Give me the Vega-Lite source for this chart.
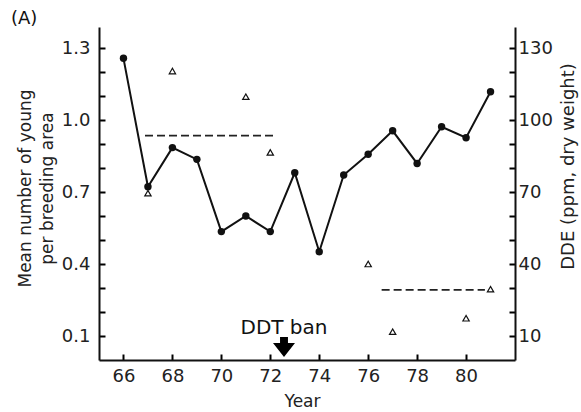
{
  "$schema": "https://vega.github.io/schema/vega-lite/v6.json",
  "width": 416,
  "height": 333,
  "autosize": {"type": "none"},
  "padding": {"left": 99, "top": 27, "right": 66, "bottom": 52},
  "title": {"text": "(A)", "anchor": "start", "frame": "group", "dx": -88, "offset": -1, "fontSize": 18, "fontWeight": "normal", "font": "DejaVu Sans", "color": "#111"},
  "config": {"view": {"stroke": null}},
  "datasets": {
    "young": [
      {"year": 66, "young": 1.257},
      {"year": 67, "young": 0.722},
      {"year": 68, "young": 0.885},
      {"year": 69, "young": 0.836},
      {"year": 70, "young": 0.535},
      {"year": 71, "young": 0.6},
      {"year": 72, "young": 0.535},
      {"year": 73, "young": 0.78},
      {"year": 74, "young": 0.451},
      {"year": 75, "young": 0.771},
      {"year": 76, "young": 0.857},
      {"year": 77, "young": 0.955},
      {"year": 78, "young": 0.819},
      {"year": 79, "young": 0.972},
      {"year": 80, "young": 0.926},
      {"year": 81, "young": 1.118}
    ],
    "dde": [
      {"year": 67, "dde": 69.5},
      {"year": 68, "dde": 120.4},
      {"year": 71, "dde": 109.7},
      {"year": 72, "dde": 86.5},
      {"year": 76, "dde": 40},
      {"year": 77, "dde": 11.8},
      {"year": 80, "dde": 17.4},
      {"year": 81, "dde": 29.5}
    ],
    "means": [
      {"year": 66.88, "year2": 72.26, "dde": 93.5},
      {"year": 76.55, "year2": 80.77, "dde": 29.2}
    ],
    "ban": [
      {"year": 72.56, "dde": 13.5, "label": "DDT ban", "arrowY": 5.4}
    ]
  },
  "layer": [
    {
      "data": {"name": "young"},
      "encoding": {
        "x": {
          "field": "year", "type": "quantitative",
          "scale": {"domain": [65, 82], "nice": false, "zero": false},
          "axis": {
            "orient": "bottom",
            "grid": false,
            "ticks": true,
            "tickSize": -6,
            "tickColor": "black",
            "tickWidth": 2,
            "domainColor": "#111",
            "domainWidth": 2,
            "values": [66, 67, 68, 69, 70, 71, 72, 73, 74, 75, 76, 77, 78, 79, 80, 81],
            "labelExpr": "datum.value % 2 == 0 ? datum.label : ''",
            "labelPadding": 13,
            "labelFont": "DejaVu Sans",
            "labelFontSize": 18,
            "labelColor": "#222",
            "title": "Year",
            "titleFont": "DejaVu Sans",
            "titleFontSize": 17,
            "titleFontWeight": "normal",
            "titleColor": "#222",
            "titleX": 203,
            "titleY": 41,
            "titleBaseline": "middle"
          }
        },
        "y": {
          "field": "young", "type": "quantitative",
          "scale": {"domain": [0, 1.3875], "nice": false},
          "axis": {
            "orient": "left",
            "grid": false,
            "ticks": true,
            "tickSize": -6,
            "tickColor": "black",
            "tickWidth": 2,
            "domainColor": "#111",
            "domainWidth": 2,
            "values": [0.1, 0.2, 0.3, 0.4, 0.5, 0.6, 0.7, 0.8, 0.9, 1.0, 1.1, 1.2, 1.3],
            "labelExpr": "(round(datum.value*10)-1) % 3 == 0 ? format(datum.value, '.1f') : ''",
            "labelPadding": 15,
            "labelFont": "DejaVu Sans",
            "labelFontSize": 18,
            "labelColor": "#222",
            "title": ["Mean number of young", "per breeding area"],
            "titleFont": "DejaVu Sans",
            "titleFontSize": 17,
            "titleFontWeight": "normal",
            "titleColor": "#222",
            "titleLineHeight": 22,
            "titleX": -74,
            "titleY": 161,
            "titleBaseline": "middle"
          }
        }
      },
      "layer": [
        {"mark": {"type": "line", "color": "#111", "strokeWidth": 2}},
        {"mark": {"type": "point", "filled": true, "color": "#111", "size": 55, "opacity": 1}}
      ]
    },
    {
      "encoding": {
        "x": {"field": "year", "type": "quantitative", "scale": {"domain": [65, 82], "nice": false, "zero": false}},
        "y": {
          "field": "dde", "type": "quantitative",
          "scale": {"domain": [0, 138.75], "nice": false},
          "axis": {
            "orient": "right",
            "grid": false,
            "ticks": true,
            "tickSize": -6,
            "tickColor": "black",
            "tickWidth": 2,
            "domainColor": "#111",
            "domainWidth": 2,
            "values": [10, 20, 30, 40, 50, 60, 70, 80, 90, 100, 110, 120, 130],
            "labelExpr": "(datum.value - 10) % 30 == 0 ? datum.label : ''",
            "labelPadding": 9,
            "labelFont": "DejaVu Sans",
            "labelFontSize": 18,
            "labelColor": "#222",
            "title": "DDE (ppm, dry weight)",
            "titleFont": "DejaVu Sans",
            "titleFontSize": 18,
            "titleFontWeight": "normal",
            "titleColor": "#222",
            "titleAngle": -90,
            "titleX": 53,
            "titleY": 139,
            "titleBaseline": "middle"
          }
        }
      },
      "layer": [
        {
          "data": {"name": "dde"},
          "mark": {"type": "point", "shape": "triangle-up", "filled": false, "color": "#111", "size": 40, "strokeWidth": 1.2, "opacity": 1}
        },
        {
          "data": {"name": "means"},
          "mark": {"type": "rule", "color": "#222", "strokeWidth": 1.6, "strokeDash": [8, 4]},
          "encoding": {"x2": {"field": "year2"}}
        },
        {
          "data": {"name": "ban"},
          "mark": {"type": "text", "fontSize": 20, "color": "#111", "font": "DejaVu Sans", "baseline": "middle", "align": "center"},
          "encoding": {"text": {"field": "label"}}
        },
        {
          "data": {"name": "ban"},
          "mark": {"type": "point", "filled": true, "color": "#000", "opacity": 1, "size": 484, "shape": "M-0.36,-0.91L0.36,-0.91L0.36,-0.36L1,-0.36L0,0.91L-1,-0.36L-0.36,-0.36Z"},
          "encoding": {"y": {"field": "arrowY", "type": "quantitative"}}
        }
      ]
    }
  ],
  "resolve": {"scale": {"y": "independent"}}
}
